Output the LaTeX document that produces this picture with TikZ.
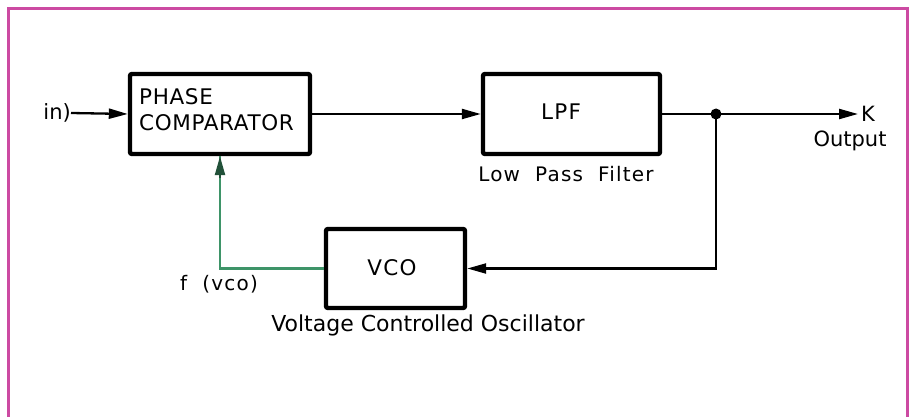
\documentclass[tikz,border=0pt]{standalone}
\usepackage{fontspec}
\setmainfont{DejaVu Sans}
\newfontfamily\spaced[LetterSpace=6,WordSpace=2]{DejaVu Sans}
\newfontfamily\boxfont[LetterSpace=3]{DejaVu Sans}
\usetikzlibrary{arrows.meta}
\definecolor{framecol}{HTML}{CC4AA2}
\definecolor{fbgreen}{HTML}{3E9468}
\tikzset{
  box/.style={draw, line width=4.4pt, rounded corners=2pt, fill=white, inner sep=0pt},
  conn/.style={line width=2.3pt, -{Triangle[length=19pt,width=10pt]}},
  wire/.style={line width=2.3pt},
  lbl/.style={inner sep=0pt, font=\fontsize{21}{26}\selectfont},
  blbl/.style={inner sep=0pt, font=\boxfont\fontsize{21.5}{26}\selectfont},
  slbl/.style={inner sep=0pt, font=\spaced\fontsize{20}{24}\selectfont},
}
\begin{document}
\begin{tikzpicture}[x=1pt,y=-1pt]
\useasboundingbox (0,0) rectangle (914,417);
\draw[framecol, line width=3pt] (8,420) -- (8,9) -- (907,9) -- (907,420);

\node[box, minimum width=180pt, minimum height=80pt] (pc) at (220,114) {};
\node[blbl, align=left, anchor=west] (pctext) at (139,110) {PHASE\\COMPARATOR};
\node[box, minimum width=177pt, minimum height=80pt] (lpf) at (571.5,114) {};
\node[slbl, font=\spaced\fontsize{21.5}{26}\selectfont] (lpftext) at (561,112) {LPF};
\node[slbl] (lpflbl) at (566,174) {Low Pass Filter};
\node[box, minimum width=139pt, minimum height=79pt] (vco) at (395.5,268.5) {};
\node[slbl, font=\spaced\fontsize{21.5}{26}\selectfont] (vcotext) at (392,268) {VCO};
\node[lbl, font=\fontsize{22}{26}\selectfont] (vcolbl) at (428,325) {Voltage Controlled Oscillator};

\node[lbl, anchor=east] (in) at (71,113) {in)};
\coordinate (j) at (716,114);
\coordinate (out) at (858,114);
\node[lbl, anchor=west] (k) at (861,114) {K};
\node[lbl] (outlbl) at (850,141) {Output};
\node[slbl, anchor=north] (fvco) at (219,275) {f (vco)};

\draw[conn] (in.east) -- (pc.west);
\draw[conn] (pc.east) -- (lpf.west);
\draw[wire] (lpf.east) -- (j);
\draw[conn] (j) -- (out);
\fill (j) circle (5.5pt);
\coordinate (jd) at (j |- vco.east);
\draw[conn] (j) -- (jd) -- (vco.east);
\coordinate (fb) at (pc.south |- vco.west);
\coordinate (fbtip) at ([yshift=-22pt]pc.south);
\draw[wire, fbgreen] (vco.west) -- (fb) -- (pc.south);
\draw[conn, fbgreen!55!black] (fbtip) -- (pc.south);
\end{tikzpicture}
\end{document}
